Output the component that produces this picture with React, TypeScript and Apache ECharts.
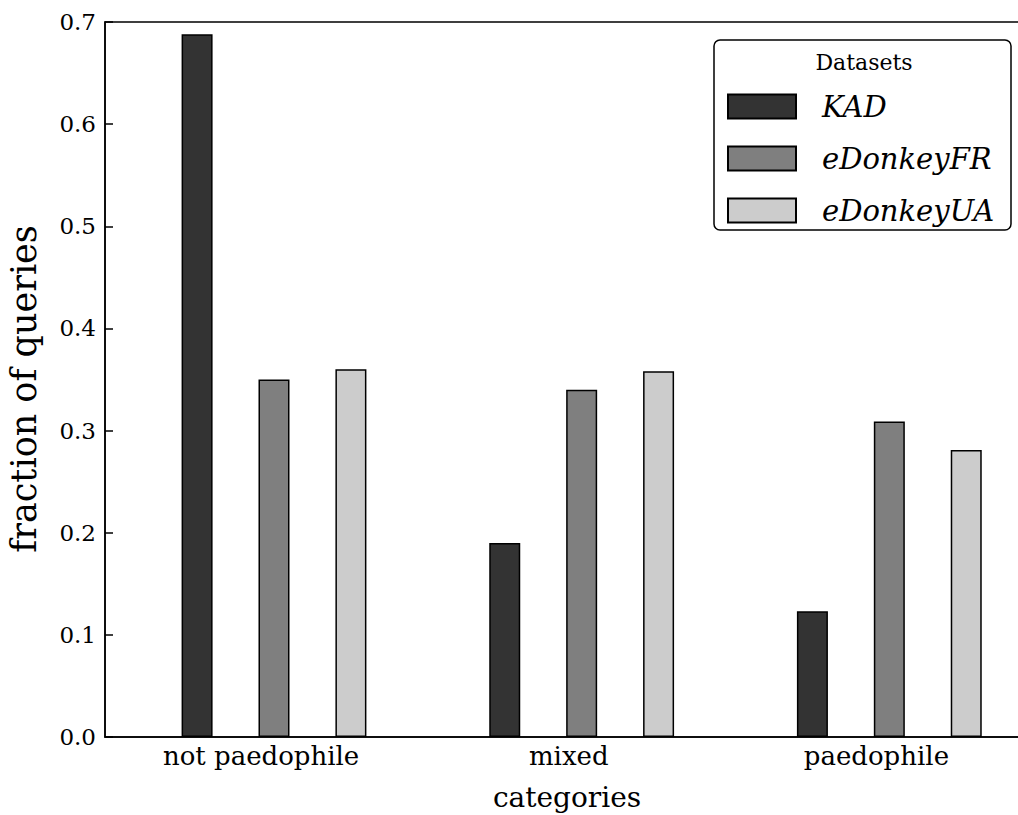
import React, { useEffect, useRef } from "react";
import * as echarts from "echarts";

const CATEGORIES = ["not paedophile", "mixed", "paedophile"];
const SERIES_NAMES = ["KAD", "eDonkeyFR", "eDonkeyUA"];
const KAD = [0.688, 0.19, 0.123];
const EDONKEY_FR = [0.35, 0.34, 0.309];
const EDONKEY_UA = [0.36, 0.358, 0.281];
const Y_TICKS = [0, 0.1, 0.2, 0.3, 0.4, 0.5, 0.6, 0.7];

const VALUES = [KAD, EDONKEY_FR, EDONKEY_UA];
const COLORS = ["#333333", "#7f7f7f", "#cccccc"];
const OFFSETS = [-0.208, 0.042, 0.292];
const FONT = "DejaVu Serif";

export default function App() {
  const ref = useRef<HTMLDivElement>(null);
  useEffect(() => {
    if (!ref.current) return;
    document.body.style.overflow = "hidden";
    const chart = echarts.init(ref.current, null, { renderer: "svg" });
    const series = SERIES_NAMES.map((name, k) => ({
      name,
      type: "bar",
      barWidth: 31,
      barGap: "-100%",
      itemStyle: { color: COLORS[k], borderColor: "#000", borderWidth: 1.5 },
      data: CATEGORIES.map((_, i) => [i + OFFSETS[k], VALUES[k][i]]),
    }));
    chart.setOption({
      animation: false,
      backgroundColor: "#fff",
      grid: {
        show: true,
        left: 105,
        top: 22,
        right: 0,
        bottom: 78,
        borderColor: "#000",
        borderWidth: 1.5,
        containLabel: false,
      },
      xAxis: {
        type: "value",
        min: -0.5073,
        max: 2.6,
        axisLine: { show: true, onZero: false, lineStyle: { color: "#000", width: 1.5 } },
        axisTick: { show: false },
        splitLine: { show: false },
        axisLabel: {
          customValues: [0, 1, 2],
          formatter: (v: number) => CATEGORIES[Math.round(v)] ?? "",
          fontFamily: FONT,
          fontSize: 26,
          color: "#000",
          margin: 6,
        },
      },
      yAxis: {
        type: "value",
        min: Y_TICKS[0],
        max: Y_TICKS[Y_TICKS.length - 1],
        interval: 0.1,
        axisLine: { show: true, onZero: false, lineStyle: { color: "#000", width: 1.5 } },
        axisTick: { show: true, inside: true, length: 8, lineStyle: { color: "#000", width: 1.5 } },
        splitLine: { show: false },
        axisLabel: {
          formatter: (v: number) => v.toFixed(1),
          fontFamily: FONT,
          fontSize: 23,
          color: "#000",
          margin: 9,
        },
      },
      legend: {
        orient: "vertical",
        left: 727,
        top: 92,
        padding: 0,
        itemWidth: 68,
        itemHeight: 24,
        itemGap: 23,
        icon: "rect",
        data: SERIES_NAMES,
        textStyle: {
          fontFamily: FONT,
          fontStyle: "italic",
          fontSize: 29,
          color: "#000",
          lineHeight: 24,
          padding: [0, 0, 0, 21],
        },
      },
      graphic: [
        {
          type: "rect",
          z: 3,
          shape: { x: 714, y: 40, width: 297, height: 190, r: 6 },
          style: { fill: "#fff", stroke: "#000", lineWidth: 1.5 },
        },
        {
          type: "text",
          z: 4,
          x: 864,
          y: 62,
          style: {
            text: "Datasets",
            fontFamily: FONT,
            fontSize: 22,
            fill: "#000",
            align: "center",
            verticalAlign: "middle",
          },
        },
        {
          type: "text",
          x: 567,
          y: 797,
          style: {
            text: "categories",
            fontFamily: FONT,
            fontSize: 28,
            fill: "#000",
            align: "center",
            verticalAlign: "middle",
          },
        },
        {
          type: "text",
          x: 24,
          y: 389,
          rotation: Math.PI / 2,
          style: {
            text: "fraction of queries",
            fontFamily: FONT,
            fontSize: 35,
            fill: "#000",
            align: "center",
            verticalAlign: "middle",
          },
        },
      ],
      series,
    });
    return () => chart.dispose();
  }, []);
  return (
    <div
      ref={ref}
      style={{ position: "fixed", left: 0, top: 0, width: 1061, height: 815, background: "#fff" }}
    />
  );
}
